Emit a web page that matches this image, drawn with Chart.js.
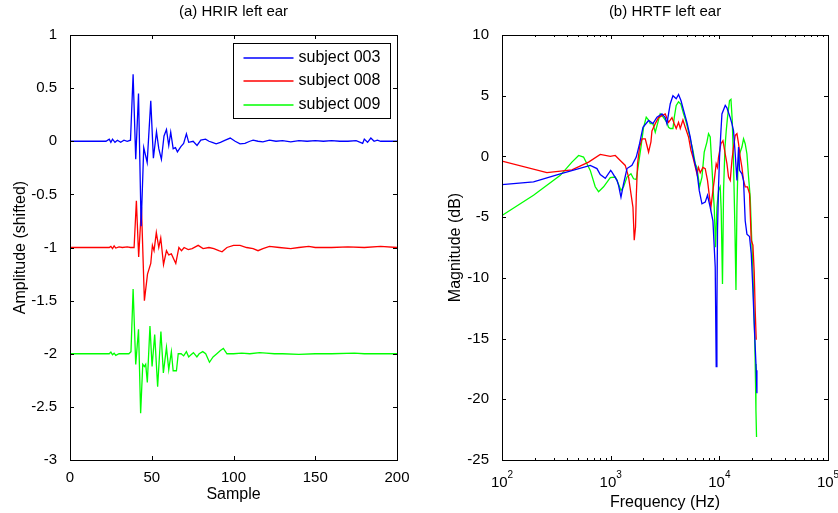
<!DOCTYPE html>
<html>
<head>
<meta charset="utf-8">
<title>HRIR / HRTF left ear</title>
<script src="https://cdn.jsdelivr.net/npm/chart.js@4.4.1/dist/chart.umd.min.js"></script>
<style>
  html, body { margin: 0; padding: 0; background: #fff; }
  #wrap { position: relative; width: 838px; height: 513px; overflow: hidden; }
  canvas { position: absolute; top: 0; }
  #hrir { left: 0; }
  #hrtf { left: 430px; }
</style>
</head>
<body>
<div id="wrap">
  <canvas id="hrir" width="430" height="513"></canvas>
  <canvas id="hrtf" width="408" height="513"></canvas>
</div>
<script>
const subjects = ['subject 003', 'subject 008', 'subject 009'];
const colors = ['#0000ff', '#ff0000', '#00ff00'];

// HRIR (sample index, amplitude), each subject shifted down by 1
const n003 = [0, 22, 24, 25, 26, 27.5, 29, 31, 33, 35,
  37, 38.6, 40.2, 41.9, 43.5, 45.1, 47.2, 49.4, 51, 52.9,
  54.3, 55.9, 57.5, 59, 60.4, 61.6, 63.1, 64.5, 65.7, 67.8,
  69.5, 71.2, 72.6, 75.3, 77.7, 80, 82.9, 85, 87, 89.4,
  92, 95, 98, 101, 104, 107, 110, 112, 115, 118,
  122, 126, 130, 135, 140, 145, 150, 155, 160, 165,
  170, 175, 179, 180, 182, 184, 186, 188, 190, 200];
const h003 = [0, 0, 0.02, -0.01, 0.02, -0.01, 0.01, -0.01, 0.01, 0,
  0.01, 0.63, -0.17, 0.45, -0.8, -0.06, -0.2, 0.38, -0.16, 0.09,
  -0.07, -0.17, 0.05, 0.11, -0.04, 0.085, -0.07, -0.06, -0.1, -0.05,
  -0.02, 0.07, -0.01, 0, -0.04, 0.01, 0.02, 0, -0.01, -0.025,
  -0.01, 0.01, 0.03, 0, -0.025, -0.02, 0, 0.01, 0, -0.005,
  0.01, 0, 0.005, -0.005, 0.005, 0, 0.005, 0, 0.005, 0,
  0, 0.005, -0.02, 0.02, -0.01, 0.03, 0, 0.01, 0, 0];

const n008 = [0, 24, 25, 26, 27, 28, 30, 32, 35, 37,
  39.2, 40.6, 42, 43.7, 45.5, 47.4, 49.4, 50.4, 51.4, 52.8,
  54.3, 55.5, 57.2, 59, 60.4, 62, 64.7, 66.6, 68.2, 69.8,
  72.3, 74.7, 78.4, 81.4, 85, 88, 91, 93, 96, 100,
  104, 108, 112, 115, 118, 122, 128, 135, 140, 146,
  150, 160, 170, 180, 190, 200];
const h008 = [-1, -1, -0.99, -1.01, -0.985, -1.005, -0.995, -1, -0.995, -1,
  -1, -0.56, -1.09, -0.62, -1.5, -1.25, -1.15, -0.98, -1.03, -0.86,
  -1, -0.91, -1.16, -1.03, -1.07, -1.06, -1.15, -1, -1.03, -1,
  -1.02, -1.01, -0.98, -1.01, -1, -1.01, -1.03, -1.04, -1, -0.98,
  -0.98, -1, -1.01, -1.03, -1.01, -0.99, -1, -1.01, -1, -0.99,
  -1, -1, -0.995, -1, -0.99, -1];

const n009 = [0, 24, 25, 26, 27, 28, 30, 36, 37.3, 38.6,
  40.2, 41.9, 43.2, 44.5, 45.5, 46.3, 47.3, 48.9, 50.2, 51.8,
  53.6, 55.6, 57.1, 59, 60.4, 62, 63.1, 65.1, 66.2, 68,
  69.5, 71.2, 72.6, 74, 75.5, 77.6, 79, 81.2, 83, 85.3,
  87.5, 89.8, 92, 93.8, 96, 100, 105, 110, 116, 120,
  125, 130, 140, 150, 160, 174, 180, 200];
const h009 = [-2, -2, -1.985, -2.01, -1.995, -2.015, -2, -2, -1.98, -1.39,
  -2.1, -1.77, -2.56, -2.1, -2.12, -2.1, -2.27, -1.74, -2.12, -1.82,
  -2.31, -1.79, -2.18, -1.94, -2.15, -1.98, -2.16, -2.16, -2, -2,
  -2.02, -1.98, -2.03, -2.01, -1.99, -2.03, -2, -1.98, -2, -2.08,
  -2.03, -2, -1.97, -1.95, -2, -2, -1.995, -2, -1.99, -1.995,
  -2, -2, -2.005, -2, -2, -1.995, -2, -2];

// HRTF magnitude (Hz, dB)
const f003 = [100, 195, 344, 649, 748, 802, 892, 1000, 1028, 1143,
  1183, 1244, 1315, 1413, 1570, 1720, 1845, 1983, 2233, 2449,
  2667, 2963, 3177, 3293, 3535, 3741, 4010, 4214, 4433, 4685,
  5031, 5395, 5791, 6223, 6531, 6918, 7414, 7782, 8244, 8730,
  9165, 9357, 9500, 9620, 9834, 10046, 10345, 10567, 11332, 11743,
  12155, 12594, 13059, 13513, 14000, 14520, 15030, 15353, 16137, 16703,
  17299, 17947, 18967, 19660, 20370, 20940, 21850, 22170];
const m003 = [-2.33, -2.1, -1.43, -0.74, -1.0, -1.5, -1.8, -1.15, -1.3, -1.97,
  -2.4, -3.35, -2.25, -1.0, -0.74, -0.05, 1.05, 2.4, 2.96, 2.7,
  3.23, 3.5, 3.2, 2.7, 4.34, 5.0, 4.75, 5.1, 4.6, 3.8,
  2.8, 1.6, -0.05, -1.3, -2.8, -3.9, -3.76, -3.2, -4.2, -5.3,
  -9.1, -17.3, -12.4, -6.1, -2.5, -0.05, 2.1, 3.5, 4.2, 4.0,
  3.6, 3.2, 2.7, 2.1, 0.2, -1.97, 0.77, -1.15, -1.43, -2.0,
  -5.3, -6.4, -6.6, -8.0, -11, -13.8, -17.6, -19.5];

const f008 = [100, 259, 440, 626, 802, 992, 1102, 1225, 1362, 1462,
  1537, 1604, 1648, 1694, 1720, 1767, 1845, 1941, 2081, 2157,
  2233, 2348, 2398, 2572, 2758, 3177, 3410, 3664, 3846, 4010,
  4214, 4368, 4625, 4856, 5207, 5478, 5715, 6223, 6440, 6669,
  7063, 7414, 7782, 8121, 8366, 8730, 8977, 9357, 9620, 9834,
  10345, 10793, 11332, 11743, 12155, 12594, 13059, 13513, 14000, 14520,
  15030, 15568, 16137, 16703, 17299, 18155, 18967, 19660, 20370, 20940,
  21390, 21850];
const m008 = [-0.39, -1.34, -1.1, -0.47, 0.16, 0, 0.08, -0.33, -0.74, -1.7,
  -3.07, -4.2, -6.9, -5.8, -3.35, -0.6, 0.77, 1.45, 1.45, 0.9,
  0.35, 1.2, 2.1, 2.7, 3.2, 3.5, 2.8, 3.2, 2.7, 2.3,
  2.8, 2.3, 3.0, 2.4, 1.6, 0.5, -0.05, -1.43, -0.9, -1.35,
  -0.9, -1.0, -1.97, -3.35, -4.2, -2.8, -1.97, -0.6, -0.9, -0.05,
  1.05, 1.3, 0.2, -0.6, -1.7, -1.97, -0.33, 0.77, 1.73, 1.87,
  1.05, -0.05, -0.9, -2.0, -2.5, -2.5, -3.07, -6.9, -7.3, -9.5,
  -12.7, -15.1];

const f009 = [100, 195, 344, 440, 507, 563, 649, 721, 774, 861,
  992, 1102, 1143, 1244, 1315, 1413, 1537, 1625, 1720, 1806,
  1900, 2009, 2125, 2233, 2313, 2449, 2572, 2700, 2858, 3067,
  3293, 3410, 3535, 3741, 3846, 4010, 4214, 4433, 4685, 4960,
  5317, 5715, 6002, 6223, 6577, 6918, 7261, 7686, 7953, 8244,
  8549, 8851, 8977, 9228, 9500, 9834, 10186, 10400, 10690, 10937,
  11270, 11570, 11885, 12412, 12793, 13141, 13513, 13924, 14223, 14520,
  14829, 15353, 16137, 16703, 17299, 17947, 18578, 19240, 19775, 20370,
  20640, 21080, 21390, 21720, 22000];
const m009 = [-4.86, -3.2, -1.56, -0.47, 0.08, -0.05, -1.15, -2.5, -2.9, -2.5,
  -1.75, -1.7, -1.97, -2.8, -2.5, -1.7, -1.43, -1.84, -1.9, -0.6,
  0.77, 2.4, 3.23, 3.0, 2.7, 2.7, 2.0, 2.7, 3.5, 3.2,
  2.8, 2.4, 2.3, 2.3, 3.2, 4.2, 4.5, 4.3, 3.5, 2.8,
  1.7, 0.5, -0.6, -0.9, -2.5, -1.7, 0.35, 1.18, 1.87, 1.6,
  -0.9, -3.35, -4.2, -7.47, -4.2, -2.8, -2.5, -4.4, -10.5, -2.8,
  0.77, 2.1, 3.2, 4.6, 4.7, 3.0, -0.6, -6.1, -11.0, -4.2,
  -0.9, 0.2, 0.77, 1.45, 1.05, 0.2, -1.7, -3.35, -6.4, -9.4,
  -11.6, -14.3, -17.1, -20.9, -23.1];

const FONT = '"Liberation Sans", Arial, Helvetica, sans-serif';
Chart.defaults.font.family = FONT;
Chart.defaults.color = '#000';

const pairs = (xs, ys) => xs.map((x, i) => ({ x, y: ys[i] }));

function lineSets(xsList, ysList) {
  return xsList.map((xs, i) => ({
    label: subjects[i],
    data: pairs(xs, ysList[i]),
    borderColor: colors[i],
    borderWidth: 1.3,
    pointRadius: 0,
    tension: 0,
    fill: false
  }));
}

// box around the axes with short inward ticks on every side
const boxTicks = {
  id: 'boxTicks',
  afterDatasetsDraw(chart) {
    const { ctx, chartArea: a, scales: { x, y } } = chart;
    const logX = x.type === 'logarithmic';
    ctx.save();
    ctx.strokeStyle = '#000';
    ctx.lineWidth = 1;
    ctx.beginPath();
    y.ticks.forEach(t => {
      const py = Math.round(y.getPixelForValue(t.value)) + 0.5;
      ctx.moveTo(a.left, py); ctx.lineTo(a.left + 4, py);
      ctx.moveTo(a.right, py); ctx.lineTo(a.right - 4, py);
    });
    let xt = [];
    if (logX) {
      for (let e = 2; e <= 4; e++) {
        for (let k = 1; k <= 9; k++) xt.push({ v: k * 10 ** e, len: k === 1 ? 4 : 2 });
      }
      xt.push({ v: 1e5, len: 4 });
    } else {
      xt = x.ticks.map(t => ({ v: t.value, len: 4 }));
    }
    xt.forEach(t => {
      const px = Math.round(x.getPixelForValue(t.v)) + 0.5;
      ctx.moveTo(px, a.bottom); ctx.lineTo(px, a.bottom - t.len);
      ctx.moveTo(px, a.top); ctx.lineTo(px, a.top + t.len);
    });
    ctx.stroke();
    ctx.strokeRect(Math.round(a.left) + 0.5, Math.round(a.top) + 0.5,
      Math.round(a.right - a.left), Math.round(a.bottom - a.top));

    if (logX) {
      // 10^n labels under the decades
      ctx.fillStyle = '#000';
      ctx.textBaseline = 'middle';
      ctx.textAlign = 'left';
      for (let e = 2; e <= 5; e++) {
        const px = x.getPixelForValue(10 ** e);
        ctx.font = '15px ' + FONT;
        const wb = ctx.measureText('10').width;
        ctx.font = '10px ' + FONT;
        const we = ctx.measureText(String(e)).width;
        const left = px - (wb + we) / 2;
        ctx.font = '15px ' + FONT;
        ctx.fillText('10', left, a.bottom + 23);
        ctx.font = '10px ' + FONT;
        ctx.fillText(String(e), left + wb, a.bottom + 15);
      }
    }
    ctx.restore();
  }
};

// legend box inside the upper right corner of the axes
const insetLegend = {
  id: 'insetLegend',
  afterDraw(chart) {
    const { ctx, chartArea: a } = chart;
    const w = 157, h = 75;
    const left = Math.round(a.right - 7 - w) + 0.5;
    const top = Math.round(a.top + 8) + 0.5;
    ctx.save();
    ctx.fillStyle = '#fff';
    ctx.fillRect(left, top, w, h);
    ctx.strokeStyle = '#000';
    ctx.lineWidth = 1;
    ctx.strokeRect(left, top, w, h);
    ctx.font = '16px ' + FONT;
    ctx.textBaseline = 'middle';
    chart.data.datasets.forEach((ds, i) => {
      const cy = Math.round(top + 14.5 + i * 23.3);
      ctx.strokeStyle = colors[i];
      ctx.lineWidth = 1.5;
      ctx.beginPath();
      ctx.moveTo(left + 10, cy);
      ctx.lineTo(left + 60, cy);
      ctx.stroke();
      ctx.fillStyle = '#000';
      ctx.fillText(ds.label, left + 65, cy);
    });
    ctx.restore();
  }
};

const tickFont = { size: 15 };
const labelFont = { size: 16 };

new Chart(document.getElementById('hrir'), {
  type: 'line',
  data: { datasets: lineSets([n003, n008, n009], [h003, h008, h009]) },
  options: {
    responsive: false,
    animation: false,
    layout: { padding: { left: 0, right: 33, top: 0, bottom: 0 } },
    plugins: {
      legend: { display: false },
      tooltip: { enabled: false },
      title: {
        display: true,
        text: '(a) HRIR left ear',
        fullSize: false,
        color: '#000',
        font: { size: 15, weight: 'normal' },
        padding: { top: 3, bottom: 14 }
      }
    },
    scales: {
      x: {
        type: 'linear',
        min: 0, max: 200,
        grid: { display: false },
        border: { display: false },
        ticks: { stepSize: 50, font: tickFont, padding: 1, maxRotation: 0 },
        title: { display: true, text: 'Sample', font: labelFont, padding: { top: 0, bottom: 9 } },
        afterFit: s => { s.height = 53; }
      },
      y: {
        min: -3, max: 1,
        grid: { display: false },
        border: { display: false },
        ticks: {
          stepSize: 0.5, font: tickFont, padding: 5,
          callback: v => String(Math.round(v * 10) / 10)
        },
        title: { display: true, text: 'Amplitude (shifted)', font: labelFont, padding: { top: 11, bottom: 0 } },
        afterFit: s => { s.width = 70; }
      }
    }
  },
  plugins: [boxTicks, insetLegend]
});

new Chart(document.getElementById('hrtf'), {
  type: 'line',
  data: { datasets: lineSets([f003, f008, f009], [m003, m008, m009]) },
  options: {
    responsive: false,
    animation: false,
    layout: { padding: { left: 0, right: 10, top: 0, bottom: 0 } },
    plugins: {
      legend: { display: false },
      tooltip: { enabled: false },
      title: {
        display: true,
        text: '(b) HRTF left ear',
        fullSize: false,
        color: '#000',
        font: { size: 15, weight: 'normal' },
        padding: { top: 3, bottom: 14 }
      }
    },
    scales: {
      x: {
        type: 'logarithmic',
        min: 100, max: 100000,
        grid: { display: false },
        border: { display: false },
        ticks: { display: false },
        title: { display: true, text: 'Frequency (Hz)', font: labelFont, padding: { top: 0, bottom: 1 } },
        afterFit: s => { s.height = 53; }
      },
      y: {
        min: -25, max: 10,
        grid: { display: false },
        border: { display: false },
        ticks: { stepSize: 5, font: tickFont, padding: 5 },
        title: { display: true, text: 'Magnitude (dB)', font: labelFont, padding: { top: 16, bottom: 0 } },
        afterFit: s => { s.width = 72; }
      }
    }
  },
  plugins: [boxTicks]
});
</script>
</body>
</html>
